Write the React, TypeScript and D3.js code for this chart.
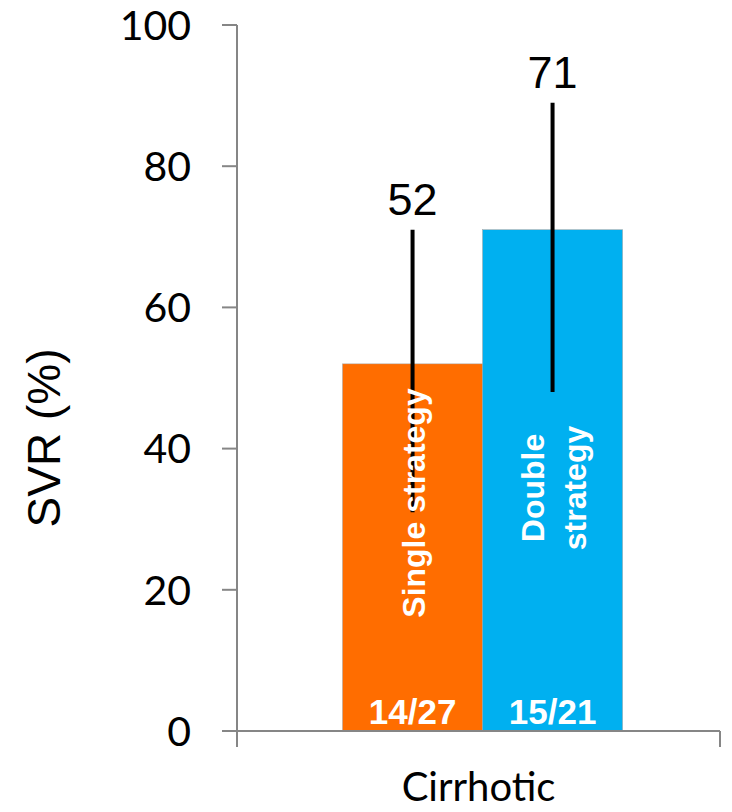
import React from "react";
import * as d3 from "d3";

const categories = ["Cirrhotic"];
const series = ["Single strategy", "Double strategy"];
const svrValues = [52, 71];
const ciLow = [31, 48];
const ciHigh = [71, 89];
const counts = ["14/27", "15/21"];
const barLabelLines = [["Single strategy"], ["Double", "strategy"]];
const barColors = ["#FF6D00", "#00B0F0"];
const yTicks = [0, 20, 40, 60, 80, 100];

const W = 732;
const H = 812;
const axisX = 237;
const axisRight = 720;
const baseY = 731;
const topY = 25;

export default function App() {
  const y = d3.scaleLinear().domain([0, 100]).range([baseY, topY]);
  const x0 = d3
    .scaleBand<string>()
    .domain(categories)
    .range([axisX, axisRight])
    .paddingInner(0)
    .paddingOuter(0.3625)
    .align(0.52);
  const x1 = d3
    .scaleBand<string>()
    .domain(series)
    .range([0, x0.bandwidth()])
    .padding(0);

  const axisColor = "#868686";
  const calibriLike = "Lato, 'Open Sans', sans-serif";
  const arialLike = "'Liberation Sans', Arial, sans-serif";

  return (
    <svg
      width={W}
      height={H}
      viewBox={`0 0 ${W} ${H}`}
      style={{ position: "absolute", left: 0, top: 0, background: "#fff" }}
    >
      {/* y axis */}
      <line x1={axisX} x2={axisX} y1={topY} y2={baseY + 16} stroke={axisColor} strokeWidth={2} />
      {yTicks.map((t) => (
        <g key={t}>
          <line x1={axisX - 15} x2={axisX} y1={y(t)} y2={y(t)} stroke={axisColor} strokeWidth={2} />
          <text
            x={191}
            y={y(t)}
            dy="0.36em"
            textAnchor="end"
            fontFamily={calibriLike}
            fontSize={41}
            fill="#000"
          >
            {t}
          </text>
        </g>
      ))}
      <text
        transform={`translate(60, 438) rotate(-90)`}
        textAnchor="middle"
        fontFamily={arialLike}
        fontSize={46}
        fill="#000"
      >
        SVR (%)
      </text>

      {/* bars */}
      {categories.map((c) => (
        <g key={c} transform={`translate(${x0(c)},0)`}>
          {series.map((s, i) => (
            <rect
              key={s}
              x={x1(s)}
              y={y(svrValues[i])}
              width={x1.bandwidth()}
              height={y(0) - y(svrValues[i])}
              fill={barColors[i]}
              stroke="#a0a0a0"
              strokeWidth={0.5}
            />
          ))}
          {/* confidence intervals */}
          {series.map((s, i) => {
            const cx = (x1(s) as number) + x1.bandwidth() / 2;
            return (
              <line
                key={s + "-ci"}
                x1={cx}
                x2={cx}
                y1={y(ciHigh[i])}
                y2={y(ciLow[i])}
                stroke="#000"
                strokeWidth={4}
              />
            );
          })}
          {/* value labels */}
          {series.map((s, i) => {
            const cx = (x1(s) as number) + x1.bandwidth() / 2;
            return (
              <text
                key={s + "-val"}
                x={cx}
                y={y(ciHigh[i]) - 15}
                textAnchor="middle"
                fontFamily={arialLike}
                fontSize={45}
                fill="#000"
              >
                {svrValues[i]}
              </text>
            );
          })}
          {/* series names inside bars */}
          {series.map((s, i) => {
            const cx = (x1(s) as number) + x1.bandwidth() / 2;
            const lines = barLabelLines[i];
            const lineGap = 42;
            const cy = i === 0 ? 503 : 488;
            return (
              <text
                key={s + "-name"}
                transform={`translate(${cx},${cy}) rotate(-90)`}
                textAnchor="middle"
                fontFamily={arialLike}
                fontWeight="bold"
                fontSize={32}
                fill="#fff"
              >
                {lines.map((ln, k) => (
                  <tspan
                    key={ln}
                    x={0}
                    y={12 + (k - (lines.length - 1) / 2) * lineGap}
                  >
                    {ln}
                  </tspan>
                ))}
              </text>
            );
          })}
          {/* n/N counts */}
          {series.map((s, i) => {
            const cx = (x1(s) as number) + x1.bandwidth() / 2;
            return (
              <text
                key={s + "-n"}
                x={cx}
                y={baseY - 7}
                textAnchor="middle"
                fontFamily={arialLike}
                fontWeight="bold"
                fontSize={35}
                fill="#fff"
              >
                {counts[i]}
              </text>
            );
          })}
        </g>
      ))}

      {/* x axis */}
      <line x1={axisX - 15} x2={axisRight} y1={baseY} y2={baseY} stroke={axisColor} strokeWidth={2} />
      <line x1={axisRight} x2={axisRight} y1={baseY} y2={baseY + 16} stroke={axisColor} strokeWidth={2} />
      {categories.map((c) => (
        <text
          key={c}
          x={(x0(c) as number) + x0.bandwidth() / 2 - 4}
          y={801}
          textAnchor="middle"
          fontFamily={calibriLike}
          fontSize={40}
          fill="#000"
        >
          {c}
        </text>
      ))}
    </svg>
  );
}
